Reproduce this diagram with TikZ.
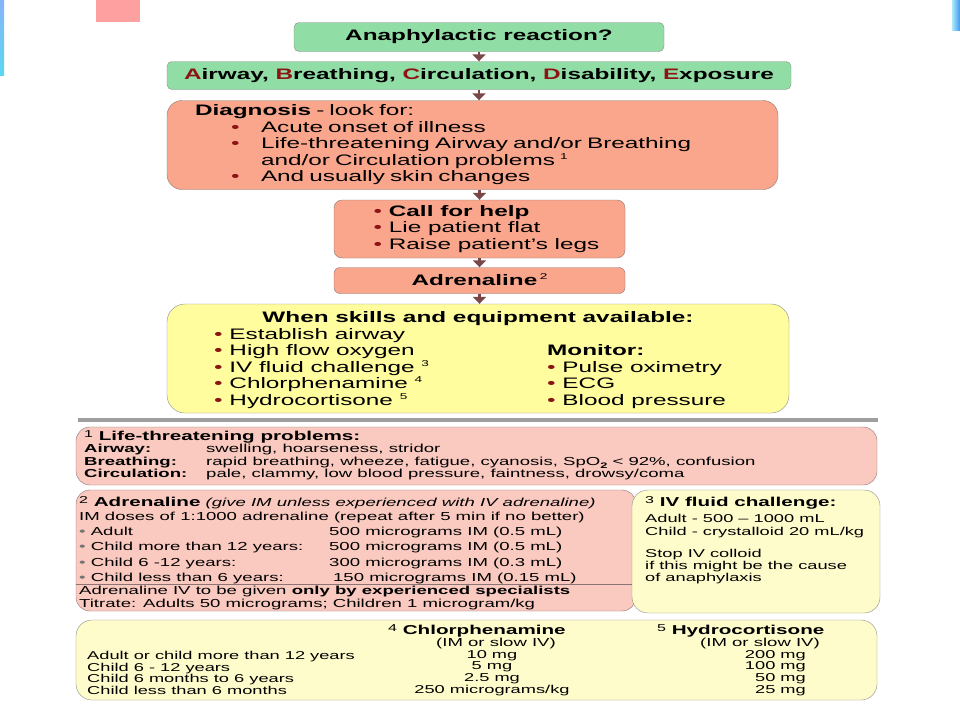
\documentclass[tikz,border=0pt]{standalone}
\usepackage{fontspec}
\setmainfont{Liberation Sans}[FakeStretch=1.6]
\usepackage{xcolor}
\usepackage{tikz}
\usetikzlibrary{arrows.meta,positioning}

\definecolor{ngreen}{RGB}{145,221,166}
\definecolor{nsalmon}{RGB}{249,166,140}
\definecolor{nyellow}{RGB}{255,253,158}
\definecolor{npink}{RGB}{250,202,192}
\definecolor{ncream}{RGB}{255,252,204}
\definecolor{nedge}{RGB}{140,140,140}
\definecolor{nred}{RGB}{140,20,20}
\definecolor{narrow}{RGB}{120,72,72}
\definecolor{nsquare}{RGB}{255,160,160}
\definecolor{nstrip}{RGB}{90,215,240}

\newcommand{\bigf}{\fontsize{15.2}{16.5}\selectfont}
\newcommand{\smallf}{\fontsize{11.6}{12.3}\selectfont}
\newcommand{\headf}{\fontsize{12.9}{13.5}\selectfont}
\newcommand{\bul}{\textcolor{nred}{•}}
\newcommand{\gbul}{\textcolor{black!55}{•}}
\newcommand{\supn}[1]{\smash{\raisebox{0.4em}{\fontsize{8.5}{8.5}\selectfont #1}}}
\newcommand{\refn}[1]{\smash{\raisebox{0.25em}{\fontsize{10}{10}\selectfont #1}}}

\begin{document}
\begin{tikzpicture}[
  x=1pt, y=-1pt,
  gbox/.style={draw=nedge, fill=ngreen, rounded corners=5pt, font=\bigf\bfseries, inner sep=0pt},
  sbox/.style={draw=nedge!80!nred, fill=nsalmon, font=\bigf, inner sep=0pt},
  ybox/.style={draw=nedge, fill=nyellow, rounded corners=18pt},
  pbox/.style={draw=nedge!80!nred, fill=npink, rounded corners=14pt},
  cbox/.style={draw=nedge, fill=ncream, rounded corners=16pt},
  txt/.style={inner sep=0pt, align=left, font=\smallf},
  edg/.style={-{Triangle[length=7pt,width=13pt]}, line width=2.8pt, narrow}
]
\useasboundingbox (0,0) rectangle (960,720);
\fill[white] (0,0) rectangle (960,720);
\fill[nsquare] (96,0) rectangle (140,22);
\shade[top color=nstrip!60!blue!60, bottom color=nstrip] (0,0) rectangle (4,75);
\shade[left color=nstrip!50, right color=nstrip!70!blue] (952,0) rectangle (960,30);

% flow
\node[gbox, minimum width=370pt, minimum height=29pt] (gAna) at (479,37) {Anaphylactic reaction?};
\node[gbox, minimum width=624pt, minimum height=28pt] (gAbc) at (479,75.5) {\textcolor{nred}{A}irway, \textcolor{nred}{B}reathing, \textcolor{nred}{C}irculation, \textcolor{nred}{D}isability, \textcolor{nred}{E}xposure};
\node[sbox, rounded corners=15pt, minimum height=89pt, text width=555pt, inner xsep=28pt, align=left] (diag) at (472.5,145) {\textbf{Diagnosis} - look for:\\
\hspace*{36pt}\makebox[30pt][l]{\bul}Acute onset of illness\\
\hspace*{36pt}\makebox[30pt][l]{\bul}Life-threatening Airway and/or Breathing\\
\hspace*{66pt}and/or Circulation problems \supn{1}\\
\hspace*{36pt}\makebox[30pt][l]{\bul}And usually skin changes};
\node[sbox, rounded corners=8pt, minimum width=291pt, minimum height=58pt, align=left] (help) at (479.5,229) {\hspace*{14pt}\bul\ \textbf{Call for help}\\\hspace*{14pt}\bul\ Lie patient flat\\\hspace*{14pt}\bul\ Raise patient’s legs};
\node[sbox, rounded corners=6pt, minimum width=291pt, minimum height=26pt] (adr) at (479.5,280.5) {\textbf{Adrenaline}\,\supn{2}};
\node[ybox, minimum width=622pt, minimum height=109pt] (skills) at (478,358.5) {};
\node[txt, font=\bigf\bfseries, align=center] (skillsT) at (478,319) {When skills and equipment available:};
\node[txt, font=\bigf, anchor=west] (skillsL) at (214,368.5) {\bul\ Establish airway\\\bul\ High flow oxygen\\\bul\ IV fluid challenge \supn{3}\\\bul\ Chlorphenamine \supn{4}\\\bul\ Hydrocortisone \supn{5}};
\node[txt, font=\bigf, anchor=west] (skillsR) at (547,376.5) {\textbf{Monitor:}\\\bul\ Pulse oximetry\\\bul\ ECG\\\bul\ Blood pressure};

\draw[edg] (gAna) -- (gAbc);
\draw[edg] (gAbc.south) -- (gAbc.south |- diag.north);
\draw[edg] (diag.south -| help) -- (help);
\draw[edg] (help) -- (adr);
\draw[edg] (adr.south) -- (adr.south |- skills.north);

% notes
\draw[line width=3.5pt, gray!75] (78,420) -- (878,420);

\node[pbox, minimum width=801pt, minimum height=58pt] (lifeB) at (476.5,456) {};
\node[txt, anchor=west] (lifeT) at (84,455.5) {\headf\refn{1} \textbf{Life-threatening problems:}\\\smallf
\makebox[122pt][l]{\textbf{Airway:}}swelling, hoarseness, stridor\\
\makebox[122pt][l]{\textbf{Breathing:}}rapid breathing, wheeze, fatigue, cyanosis, SpO\smash{\raisebox{-0.25em}{\fontsize{8}{8}\selectfont\bfseries 2}} < 92\%, confusion\\
\makebox[122pt][l]{\textbf{Circulation:}}pale, clammy, low blood pressure, faintness, drowsy/coma};

\node[pbox, minimum width=560pt, minimum height=121pt] (adrB) at (356,550.5) {};
\node[txt, anchor=west, font=\fontsize{11.6}{14}\selectfont] (adrT) at (79,510) {{\headf\refn{2} \textbf{Adrenaline}} \textit{(give IM unless experienced with IV adrenaline)}\\IM doses of 1:1000 adrenaline (repeat after 5 min if no better)};
\node[txt, anchor=west, font=\fontsize{11.6}{15.3}\selectfont] (adrL) at (79,555.5) {\makebox[250pt][l]{\gbul\ Adult}500 micrograms IM (0.5 mL)\\
\makebox[250pt][l]{\gbul\ Child more than 12 years:}500 micrograms IM (0.5 mL)\\
\makebox[250pt][l]{\gbul\ Child 6 -12 years:}300 micrograms IM (0.3 mL)\\
\makebox[250pt][l]{\gbul\ Child less than 6 years:}\hspace*{4pt}150 micrograms IM (0.15 mL)};
\coordinate (adrS) at (0,584);
\draw[nedge!80!nred] (adrB.west |- adrS) -- (adrB.east |- adrS);
\node[txt, anchor=west] (adrN) at (79,598) {Adrenaline IV to be given \textbf{only by experienced specialists}\\Titrate: Adults 50 micrograms; Children 1 microgram/kg};

\node[cbox, minimum width=248pt, minimum height=123pt] (ivB) at (756,551.5) {};
\node[txt, anchor=west, font=\headf] (ivT) at (645,503.5) {\refn{3} \textbf{IV fluid challenge:}};
\node[txt, anchor=west, font=\fontsize{11.4}{12.8}\selectfont] (ivA) at (645,526) {Adult - 500 – 1000 mL\\Child - crystalloid 20 mL/kg};
\node[txt, anchor=west, font=\fontsize{11.4}{12}\selectfont] (ivS) at (645,567) {Stop IV colloid\\if this might be the cause\\of anaphylaxis};

\node[cbox, minimum width=801pt, minimum height=80pt] (drugB) at (476.5,660) {};
\node[txt, anchor=west, font=\headf] (chlorH) at (388,631.5) {\refn{4} \textbf{Chlorphenamine}};
\node[txt, anchor=west, font=\headf] (hydroH) at (657,631.5) {\refn{5} \textbf{Hydrocortisone}};
\node[txt] (chlorR) at (496,643.5) {(IM or slow IV)};
\node[txt] (hydroR) at (760,643.5) {(IM or slow IV)};
\node[txt, anchor=west, font=\fontsize{11.4}{11.8}\selectfont] (ageL) at (87,673) {Adult or child more than 12 years\\Child 6 - 12 years\\Child 6 months to 6 years\\Child less than 6 months};
\node[txt, align=center, font=\fontsize{11.4}{11.8}\selectfont] (chlorV) at (492,673) {10 mg\\5 mg\\2.5 mg\\250 micrograms/kg};
\node[txt, align=right, anchor=east, font=\fontsize{11.4}{11.8}\selectfont] (hydroV) at (806,673) {200 mg\\100 mg\\50 mg\\25 mg};
\end{tikzpicture}
\end{document}
